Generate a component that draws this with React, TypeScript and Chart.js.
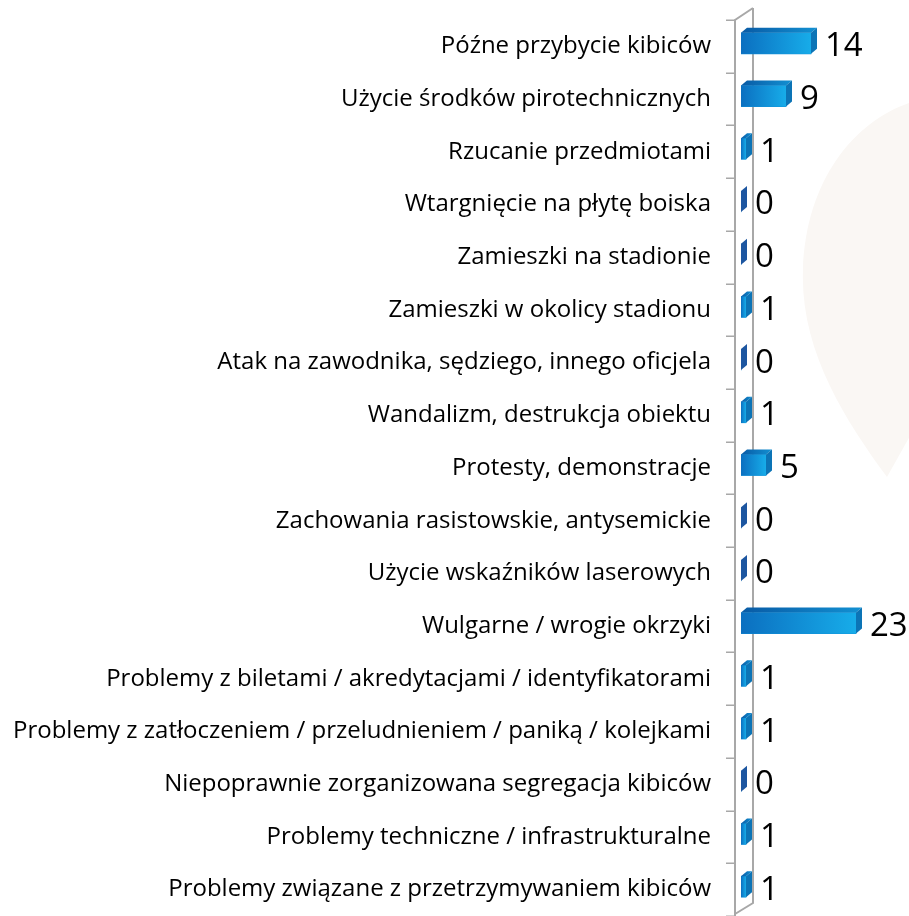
import React, { useEffect, useRef } from 'react';
import { Chart, registerables } from 'chart.js';

Chart.register(...registerables);

const categories: string[] = [
  'Późne przybycie kibiców',
  'Użycie środków pirotechnicznych',
  'Rzucanie przedmiotami',
  'Wtargnięcie na płytę boiska',
  'Zamieszki na stadionie',
  'Zamieszki w okolicy stadionu',
  'Atak na zawodnika, sędziego, innego oficjela',
  'Wandalizm, destrukcja obiektu',
  'Protesty, demonstracje',
  'Zachowania rasistowskie, antysemickie',
  'Użycie wskaźników laserowych',
  'Wulgarne / wrogie okrzyki',
  'Problemy z biletami / akredytacjami / identyfikatorami',
  'Problemy z zatłoczeniem / przeludnieniem / paniką / kolejkami',
  'Niepoprawnie zorganizowana segregacja kibiców',
  'Problemy techniczne / infrastrukturalne',
  'Problemy związane z przetrzymywaniem kibiców',
];

const values: number[] = [14, 9, 1, 0, 0, 1, 0, 1, 5, 0, 0, 23, 1, 1, 0, 1, 1];

const xMin = 0;
const xMax = 33.6;

const FONT = "'Open Sans', 'Noto Sans', sans-serif";

const backgroundPlugin = {
  id: 'bgShape',
  beforeDraw(chart: any) {
    const { ctx, width } = chart;
    ctx.save();
    ctx.fillStyle = '#ffffff';
    ctx.fillRect(0, 0, chart.width, chart.height);
    ctx.fillStyle = '#faf7f4';
    ctx.beginPath();
    ctx.moveTo(887, 477);
    ctx.bezierCurveTo(845, 420, 800, 350, 803, 270);
    ctx.bezierCurveTo(806, 175, 860, 115, width + 10, 100);
    ctx.lineTo(width + 10, 420);
    ctx.closePath();
    ctx.fill();
    ctx.restore();
  },
};

const framePlugin = {
  id: 'frame3d',
  beforeDatasetsDraw(chart: any) {
    const { ctx, chartArea } = chart;
    const L = chartArea.left;
    const n = categories.length;
    const band = (chartArea.bottom - chartArea.top) / n;
    const top0 = chartArea.top + 3;
    const fx = L - 6;
    const bx = L + 12;
    const H = chart.height;
    ctx.save();
    ctx.strokeStyle = '#a8a8a8';
    ctx.lineWidth = 2;
    ctx.beginPath();
    ctx.moveTo(bx, top0 - 12);
    ctx.lineTo(bx, H - 13);
    ctx.lineTo(fx, H - 2);
    ctx.moveTo(fx, H);
    ctx.lineTo(fx, top0);
    ctx.lineTo(bx, top0 - 12);
    ctx.stroke();
    ctx.lineWidth = 1.5;
    ctx.beginPath();
    for (let k = 0; k <= n; k++) {
      const y = Math.round(top0 + k * band) + 0.25;
      ctx.moveTo(fx - 9, y);
      ctx.lineTo(fx, y);
    }
    ctx.stroke();
    ctx.restore();
  },
};

const bars3dPlugin = {
  id: 'bars3d',
  afterDatasetsDraw(chart: any) {
    const { ctx } = chart;
    const meta = chart.getDatasetMeta(0);
    const dx = 6;
    const dy = 5;
    ctx.save();
    meta.data.forEach((el: any, i: number) => {
      const p = el.getProps(['x', 'y', 'base', 'height'], true);
      const x0 = p.base;
      const x1 = p.x;
      const yt = p.y - p.height / 2;
      const yb = p.y + p.height / 2;
      const v = values[i];
      if (x1 > x0 + 0.5) {
        const g = ctx.createLinearGradient(x0, 0, x1, 0);
        g.addColorStop(0, '#0b6fc0');
        g.addColorStop(1, '#17ace9');
        ctx.fillStyle = g;
        ctx.fillRect(x0, yt, x1 - x0, yb - yt);
        const gt = ctx.createLinearGradient(x0, 0, x1 + dx, 0);
        gt.addColorStop(0, '#085aa5');
        gt.addColorStop(1, '#1290d2');
        ctx.fillStyle = gt;
        ctx.beginPath();
        ctx.moveTo(x0, yt);
        ctx.lineTo(x1, yt);
        ctx.lineTo(x1 + dx, yt - dy);
        ctx.lineTo(x0 + dx, yt - dy);
        ctx.closePath();
        ctx.fill();
      }
      ctx.fillStyle = v === 0 ? '#1d56a0' : '#0c74b6';
      ctx.beginPath();
      ctx.moveTo(x1, yt);
      ctx.lineTo(x1 + dx, yt - dy);
      ctx.lineTo(x1 + dx, yb - dy);
      ctx.lineTo(x1, yb);
      ctx.closePath();
      ctx.fill();
      ctx.fillStyle = '#000000';
      ctx.font = `33px ${FONT}`;
      ctx.textAlign = 'left';
      ctx.textBaseline = 'alphabetic';
      ctx.fillText(String(v), x1 + dx + 8, p.y + 13);
    });
    ctx.restore();
  },
};

export default function App() {
  const canvasRef = useRef<HTMLCanvasElement | null>(null);

  useEffect(() => {
    const canvas = canvasRef.current;
    if (!canvas) return;
    const chart = new Chart(canvas, {
      type: 'bar',
      data: {
        labels: categories,
        datasets: [
          {
            data: values,
            backgroundColor: '#1090d8',
            borderWidth: 0,
            barThickness: 21,
          },
        ],
      },
      options: {
        indexAxis: 'y',
        animation: false,
        responsive: false,
        maintainAspectRatio: false,
        layout: { padding: { top: 17, bottom: 3, left: 0, right: 0 } },
        scales: {
          x: { min: xMin, max: xMax, display: false },
          y: {
            type: 'category',
            grid: { display: false },
            border: { display: false },
            ticks: {
              color: '#000000',
              font: { family: FONT, size: 24 },
              padding: 22,
              labelOffset: 3,
              autoSkip: false,
            },
            afterFit(scale: any) {
              scale.width = 741;
              scale.paddingTop = 0;
              scale.paddingBottom = 0;
            },
          },
        },
        plugins: {
          legend: { display: false },
          tooltip: { enabled: false },
        },
      },
      plugins: [backgroundPlugin, framePlugin, bars3dPlugin],
    });
    return () => chart.destroy();
  }, []);

  return (
    <div style={{ position: 'fixed', left: 0, top: 0, width: 909, height: 916, background: '#fff' }}>
      <canvas ref={canvasRef} width={909} height={916} style={{ width: 909, height: 916, display: 'block' }} />
    </div>
  );
}
